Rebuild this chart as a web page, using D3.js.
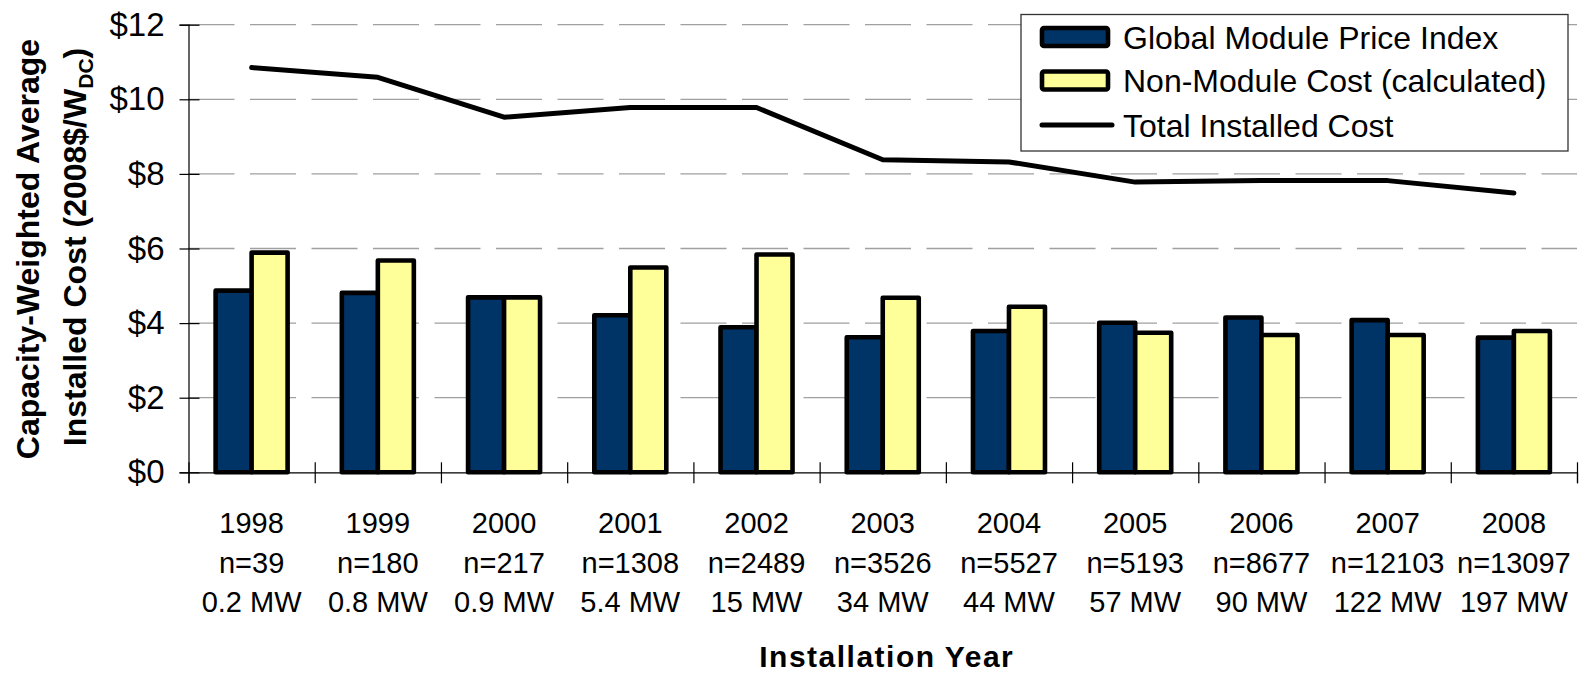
<!DOCTYPE html>
<html>
<head>
<meta charset="utf-8">
<script src="https://cdn.jsdelivr.net/npm/d3@7"></script>
<style>
  body { margin: 0; background: #fff; }
  svg { display: block; font-family: "Liberation Sans", Arial, sans-serif; }
</style>
</head>
<body>
<div id="chart"></div>
<script>
// data (2008$/W_DC)
const years = ["1998", "1999", "2000", "2001", "2002", "2003", "2004", "2005", "2006", "2007", "2008"];
const counts = ["n=39", "n=180", "n=217", "n=1308", "n=2489", "n=3526", "n=5527", "n=5193", "n=8677", "n=12103", "n=13097"];
const capacity = ["0.2 MW", "0.8 MW", "0.9 MW", "5.4 MW", "15 MW", "34 MW", "44 MW", "57 MW", "90 MW", "122 MW", "197 MW"];
const moduleCost = [4.87, 4.81, 4.69, 4.21, 3.89, 3.62, 3.79, 4.01, 4.15, 4.08, 3.61];
const nonModuleCost = [5.89, 5.68, 4.69, 5.49, 5.84, 4.68, 4.44, 3.74, 3.68, 3.68, 3.79];
const totalCost = [10.85, 10.59, 9.52, 9.78, 9.78, 8.38, 8.32, 7.78, 7.82, 7.82, 7.49];
const yTicks = [0, 2, 4, 6, 8, 10, 12];
const seriesNames = ["Global Module Price Index", "Non-Module Cost (calculated)", "Total Installed Cost"];

const W = 1579, H = 674;
const plot = {left: 188.5, right: 1577, top: 24.7, bottom: 472.3};
const blue = "#003366", yellow = "#ffff99";

const svg = d3.select("#chart").append("svg")
    .attr("width", W)
    .attr("height", H);

const x = d3.scaleBand().domain(years).range([plot.left, plot.right]).padding(0);
const y = d3.scaleLinear().domain([0, 12]).range([plot.bottom, plot.top]);
const groupW = 72;
const inner = d3.scaleBand().domain(["module", "nonmodule"]).range([0, groupW]);
const groupOff = (x.bandwidth() - groupW) / 2;

// dashed gridlines
svg.append("g")
    .selectAll("line")
    .data(yTicks.filter(d => d > 0))
    .enter()
    .append("line")
    .attr("x1", plot.left)
    .attr("x2", plot.right)
    .attr("y1", d => y(d))
    .attr("y2", d => y(d))
    .attr("stroke", "#a0a0a0")
    .attr("stroke-width", 1.3)
    .attr("stroke-dasharray", "46,15.5");

// y axis, ticks cross the axis line
const yAxis = svg.append("g")
    .attr("transform", "translate(" + plot.left + ",0)")
    .call(d3.axisLeft(y).tickValues(yTicks).tickSize(9).tickPadding(15).tickFormat(d => "$" + d));
yAxis.select(".domain").attr("stroke", "#000").attr("stroke-width", 1.2);
yAxis.selectAll(".tick line").attr("x1", 11).attr("stroke", "#000").attr("stroke-width", 1.2);
yAxis.selectAll(".tick text")
    .style("font-family", "Liberation Sans, Arial, sans-serif")
    .style("font-size", "33px")
    .attr("fill", "#000");

// x axis: ticks sit on category boundaries
const xb = d3.scaleLinear().domain([0, years.length]).range([plot.left, plot.right]);
const xAxis = svg.append("g")
    .attr("transform", "translate(0," + plot.bottom + ")")
    .call(d3.axisBottom(xb).tickValues(d3.range(years.length + 1)).tickSize(11).tickFormat(""));
xAxis.select(".domain").attr("stroke", "#000").attr("stroke-width", 1.2);
xAxis.selectAll(".tick line").attr("y1", -10).attr("stroke", "#000").attr("stroke-width", 1.2);

// bars
const barsLayer = svg.append("g");
function drawBars(values, key, fill) {
    barsLayer.append("g")
        .selectAll("rect")
        .data(values)
        .enter()
        .append("rect")
        .attr("x", (d, i) => x(years[i]) + groupOff + inner(key))
        .attr("width", inner.bandwidth())
        .attr("y", d => y(d))
        .attr("height", d => plot.bottom - y(d))
        .attr("fill", fill)
        .attr("stroke", "#000")
        .attr("stroke-width", 4.6)
        .attr("stroke-linejoin", "round");
}
drawBars(moduleCost, "module", blue);
drawBars(nonModuleCost, "nonmodule", yellow);

// total installed cost line
const line = d3.line()
    .x((d, i) => x(years[i]) + x.bandwidth() / 2)
    .y(d => y(d));
svg.append("path")
    .datum(totalCost)
    .attr("d", line)
    .attr("fill", "none")
    .attr("stroke", "#000")
    .attr("stroke-width", 5)
    .attr("stroke-linecap", "round")
    .attr("stroke-linejoin", "round");

// category labels, three lines each
const labels = svg.append("g")
    .attr("font-size", 29)
    .attr("text-anchor", "middle")
    .attr("fill", "#000");
const lab = labels.selectAll("text")
    .data(years)
    .enter()
    .append("text")
    .attr("x", d => x(d) + x.bandwidth() / 2)
    .attr("y", 533);
lab.append("tspan").attr("x", d => x(d) + x.bandwidth() / 2).text(d => d);
lab.append("tspan").attr("x", d => x(d) + x.bandwidth() / 2).attr("dy", 40).text((d, i) => counts[i]);
lab.append("tspan").attr("x", d => x(d) + x.bandwidth() / 2).attr("dy", 39).text((d, i) => capacity[i]);

// axis titles
svg.append("text")
    .attr("x", (plot.left + plot.right) / 2 + 4)
    .attr("y", 667)
    .attr("text-anchor", "middle")
    .attr("font-size", 30)
    .attr("font-weight", "bold")
    .attr("letter-spacing", 1.5)
    .text("Installation Year");

svg.append("text")
    .attr("transform", "translate(39,249) rotate(-90)")
    .attr("text-anchor", "middle")
    .attr("font-size", 32)
    .attr("font-weight", "bold")
    .text("Capacity-Weighted Average");

const t2 = svg.append("text")
    .attr("transform", "translate(86,247) rotate(-90)")
    .attr("text-anchor", "middle")
    .attr("font-size", 32)
    .attr("font-weight", "bold");
t2.append("tspan").text("Installed Cost (2008$/W");
t2.append("tspan").attr("font-size", 21).attr("dy", 7).text("DC");
t2.append("tspan").attr("dy", -7).text(")");

// legend
const legend = svg.append("g");
legend.append("rect")
    .attr("x", 1021)
    .attr("y", 14.5)
    .attr("width", 547)
    .attr("height", 136.5)
    .attr("fill", "#fff")
    .attr("stroke", "#333")
    .attr("stroke-width", 1.3);
const rowY = [37, 80.5, 125];
const swatchFill = [blue, yellow];
swatchFill.forEach((c, i) => {
    legend.append("rect")
        .attr("x", 1042)
        .attr("y", rowY[i] - 9)
        .attr("width", 66)
        .attr("height", 18)
        .attr("rx", 2)
        .attr("fill", c)
        .attr("stroke", "#000")
        .attr("stroke-width", 4.6);
});
legend.append("line")
    .attr("x1", 1042)
    .attr("x2", 1112)
    .attr("y1", rowY[2])
    .attr("y2", rowY[2])
    .attr("stroke", "#000")
    .attr("stroke-width", 5)
    .attr("stroke-linecap", "round");
legend.selectAll("text.leg")
    .data(seriesNames)
    .enter()
    .append("text")
    .attr("class", "leg")
    .attr("x", 1123)
    .attr("y", (d, i) => rowY[i] + 11.5)
    .attr("font-size", 32)
    .text(d => d);
</script>
</body>
</html>
